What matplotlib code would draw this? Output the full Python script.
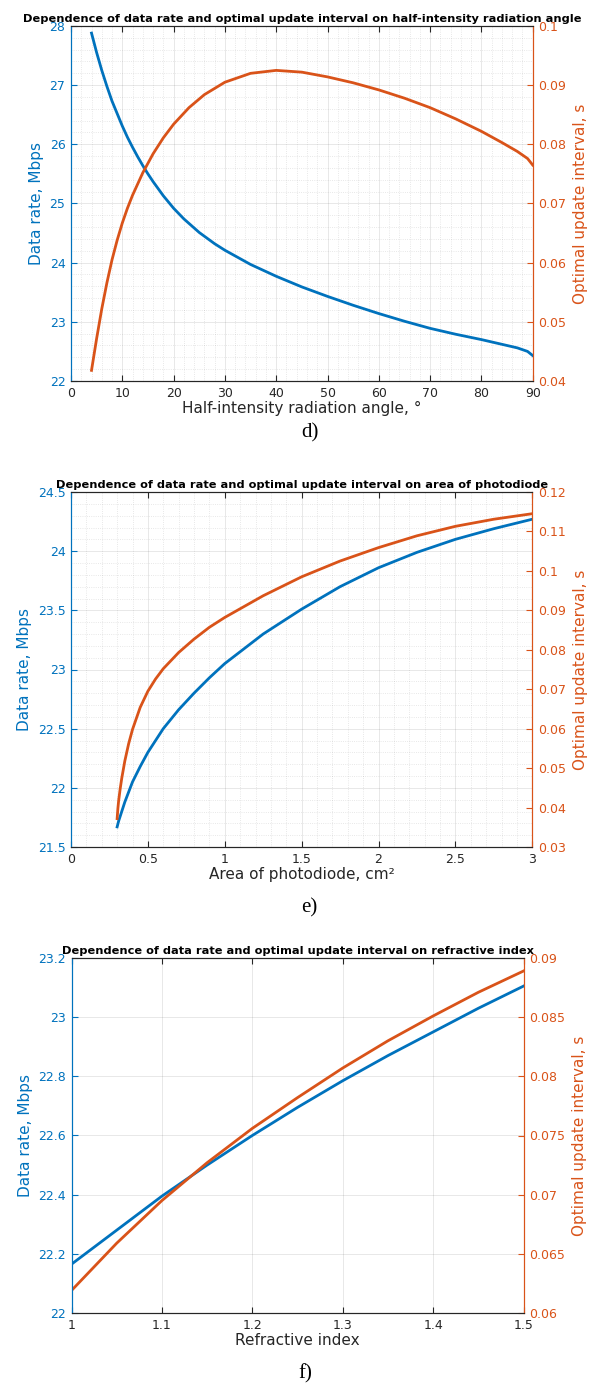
import matplotlib
matplotlib.use("Agg")
import matplotlib.pyplot as plt
from matplotlib.ticker import AutoMinorLocator, FuncFormatter

BLUE = "#0072BD"
ORANGE = "#D95319"

# d) half-intensity radiation angle
angle = [4, 5, 6, 7, 8, 9, 10, 11, 12, 13, 14, 15, 16, 18, 20, 22, 25, 28, 30, 35, 40, 45, 50, 55, 60, 65, 70,
         75, 80, 84, 87, 89, 90]
rate_angle = [27.88, 27.55, 27.25, 26.98, 26.73, 26.52, 26.31, 26.12, 25.95, 25.79, 25.64, 25.5, 25.37, 25.13,
              24.92, 24.74, 24.51, 24.32, 24.21, 23.97, 23.77, 23.59, 23.43, 23.28, 23.14, 23.01, 22.89, 22.79,
              22.7, 22.62, 22.56, 22.5, 22.43]
angle_o = [4, 5, 6, 7, 8, 9, 10, 11, 12, 14, 16, 18, 20, 23, 26, 30, 35, 40, 45, 50, 55, 60, 65, 70, 75, 80, 84,
           87, 89, 90]
interval_angle = [0.0418, 0.0472, 0.0522, 0.0566, 0.0605, 0.0638, 0.0667, 0.0692, 0.0714, 0.0752, 0.0784, 0.0811,
                  0.0834, 0.0862, 0.0884, 0.0905, 0.092, 0.0925, 0.0922, 0.0914, 0.0904, 0.0892, 0.0878, 0.0862,
                  0.0843, 0.0822, 0.0803, 0.0788, 0.0776, 0.0765]

# e) area of photodiode
area = [0.3, 0.31, 0.32, 0.35, 0.4, 0.45, 0.5, 0.6, 0.7, 0.8, 0.9, 1.0, 1.25, 1.5, 1.75, 2.0, 2.25, 2.5, 2.75, 3.0]
rate_area = [21.67, 21.72, 21.76, 21.88, 22.05, 22.18, 22.3, 22.5, 22.66, 22.8, 22.93, 23.05, 23.3, 23.51, 23.7,
             23.86, 23.99, 24.1, 24.19, 24.27]
area_o = [0.3, 0.305, 0.31, 0.32, 0.33, 0.35, 0.375, 0.4, 0.45, 0.5, 0.55, 0.6, 0.7, 0.8, 0.9, 1.0, 1.25, 1.5,
          1.75, 2.0, 2.25, 2.5, 2.75, 3.0]
interval_area = [0.0372, 0.0398, 0.0418, 0.0448, 0.0474, 0.0518, 0.0562, 0.0598, 0.0654, 0.0695, 0.0726, 0.0752,
                 0.0793, 0.0827, 0.0857, 0.0882, 0.0937, 0.0985, 0.1025, 0.1059, 0.1089, 0.1113, 0.1131, 0.1145]

# f) refractive index
index = [1.0, 1.05, 1.1, 1.15, 1.2, 1.25, 1.3, 1.35, 1.4, 1.45, 1.5]
rate_index = [22.165, 22.28, 22.395, 22.5, 22.6, 22.695, 22.785, 22.87, 22.95, 23.03, 23.105]
interval_index = [0.0619, 0.0659, 0.0695, 0.0727, 0.0756, 0.0782, 0.0807, 0.083, 0.0851, 0.0871, 0.0889]

W, H = 592, 1387
fig = plt.figure(figsize=(W / 100, H / 100), dpi=100)
fmt = FuncFormatter(lambda v, p: "%g" % round(v, 6))


def panel(box, x1, y1, x2, y2, xlim, ylim1, ylim2, xt, yt1, yt2, title, xlabel, caption, cap_y, minor=True):
    l, r, t, b = box
    ax = fig.add_axes([l / W, 1 - b / H, (r - l) / W, (b - t) / H])
    ax2 = ax.twinx()
    ax.plot(x1, y1, color=BLUE, lw=2)
    ax2.plot(x2, y2, color=ORANGE, lw=2)
    ax.set_xlim(xlim)
    ax.set_ylim(ylim1)
    ax2.set_ylim(ylim2)
    ax.set_xticks(xt)
    ax.set_yticks(yt1)
    ax2.set_yticks(yt2)
    for a in (ax.xaxis, ax.yaxis, ax2.yaxis):
        a.set_major_formatter(fmt)
    ax.grid(True, which="major", color="#262626", alpha=0.12, lw=0.6)
    if minor:
        ax.xaxis.set_minor_locator(AutoMinorLocator(5))
        ax.yaxis.set_minor_locator(AutoMinorLocator(5))
        ax.grid(True, which="minor", color="#262626", alpha=0.14, lw=0.6, linestyle=":")
        ax.tick_params(which="minor", length=0)
    ax.set_axisbelow(True)
    ax.tick_params(axis="x", direction="in", top=True, length=4, labelsize=9, colors="#262626", pad=4)
    ax.tick_params(axis="y", direction="in", length=4, labelsize=9, colors=BLUE, pad=4)
    ax2.tick_params(axis="y", direction="in", length=4, labelsize=9, colors=ORANGE, pad=4)
    for a in (ax, ax2):
        a.spines["top"].set_color("#262626")
        a.spines["bottom"].set_color("#262626")
        a.spines["left"].set_color(BLUE)
        a.spines["right"].set_color(ORANGE)
        for s in a.spines.values():
            s.set_linewidth(0.8)
    ax.set_ylabel("Data rate, Mbps", color=BLUE, fontsize=11, labelpad=4)
    ax2.set_ylabel("Optimal update interval, s", color=ORANGE, fontsize=11, labelpad=5)
    ax.set_xlabel(xlabel, color="#262626", fontsize=11, labelpad=1)
    ax.set_title(title, fontsize=8.2, fontweight="bold", pad=3)
    fig.text(((l + r) / 2 + 8) / W, 1 - cap_y / H, caption, ha="center", va="center",
             fontsize=15, family="Liberation Serif")
    return ax


panel((71, 532.7, 26, 381), angle, rate_angle, angle_o, interval_angle, (0, 90), (22, 28), (0.04, 0.1),
      range(0, 91, 10), range(22, 29), [0.04, 0.05, 0.06, 0.07, 0.08, 0.09, 0.1],
      "Dependence of data rate and optimal update interval on half-intensity radiation angle",
      "Half-intensity radiation angle, \u00b0", "d)", 433)

panel((71, 532.3, 492, 847), area, rate_area, area_o, interval_area, (0, 3), (21.5, 24.5), (0.03, 0.12),
      [0, 0.5, 1, 1.5, 2, 2.5, 3], [21.5, 22, 22.5, 23, 23.5, 24, 24.5],
      [0.03, 0.04, 0.05, 0.06, 0.07, 0.08, 0.09, 0.1, 0.11, 0.12],
      "Dependence of data rate and optimal update interval on area of photodiode",
      "Area of photodiode, cm\u00b2", "e)", 908)

panel((71.5, 523.5, 958, 1313), index, rate_index, index, interval_index, (1, 1.5), (22, 23.2), (0.06, 0.09),
      [1, 1.1, 1.2, 1.3, 1.4, 1.5], [22, 22.2, 22.4, 22.6, 22.8, 23, 23.2],
      [0.06, 0.065, 0.07, 0.075, 0.08, 0.085, 0.09],
      "Dependence of data rate and optimal update interval on refractive index",
      "Refractive index", "f)", 1374, minor=False)

plt.savefig("out.png", dpi=100)
